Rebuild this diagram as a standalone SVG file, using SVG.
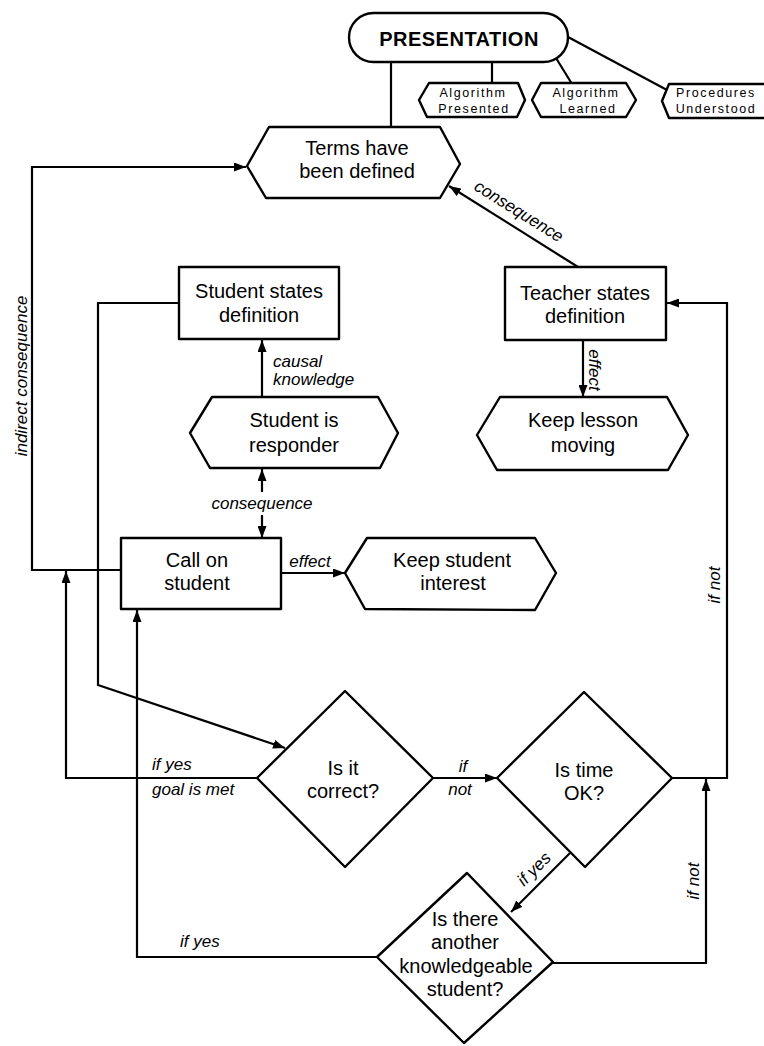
<svg xmlns="http://www.w3.org/2000/svg" width="764" height="1046" viewBox="0 0 764 1046">
<style>
.node{fill:#fff;stroke:#000;stroke-width:2.4;stroke-linejoin:round}
.edge{fill:none;stroke:#000;stroke-width:2.2}
.t{font-family:"Liberation Sans",Arial,sans-serif;font-size:20px;text-anchor:middle;fill:#000}
.small{font-size:12.5px;letter-spacing:1.6px}
.title{font-weight:bold;font-size:20px;letter-spacing:0.5px}
.lbl{font-family:"Liberation Sans",Arial,sans-serif;font-size:17px;font-style:italic;fill:#000}
.mid{text-anchor:middle}
</style>
<defs>
<marker id="arr" markerUnits="userSpaceOnUse" markerWidth="13" markerHeight="9" refX="12" refY="4.5" orient="auto">
<path d="M0,0 L12,4.5 L0,9 Z" fill="#000"/>
</marker>
</defs>
<rect width="764" height="1046" fill="#fff"/>

<g id="connectors">
<path class="edge" d="M391,61 V127"/>
<path class="edge" d="M492,61 V83"/>
<path class="edge" d="M556,58 L572,84"/>
<path class="edge" d="M568,37 L667,90"/>
<path class="edge" d="M121,570 H32 V167 H246" marker-end="url(#arr)"/>
<path class="edge" d="M257,778 H66 V571" marker-end="url(#arr)"/>
<path class="edge" d="M179,303 H98 V685 L285,748" marker-end="url(#arr)"/>
<path class="edge" d="M262,397 V340" marker-end="url(#arr)"/>
<path class="edge" d="M262,492 V469" marker-end="url(#arr)"/>
<path class="edge" d="M262,515 V538" marker-end="url(#arr)"/>
<path class="edge" d="M281,573 H345" marker-end="url(#arr)"/>
<path class="edge" d="M578,267 L449,186" marker-end="url(#arr)"/>
<path class="edge" d="M583,340 V397" marker-end="url(#arr)"/>
<path class="edge" d="M433,778 H497" marker-end="url(#arr)"/>
<path class="edge" d="M672,778 H727 V303 H667" marker-end="url(#arr)"/>
<path class="edge" d="M570,853 L511,912" marker-end="url(#arr)"/>
<path class="edge" d="M377,957 H137 V610" marker-end="url(#arr)"/>
<path class="edge" d="M553,963 H706 V779" marker-end="url(#arr)"/>

<text class="lbl mid" transform="translate(27,376) rotate(-90)">indirect consequence</text>
<text class="lbl mid" transform="translate(516,216) rotate(32)">consequence</text>
<text class="lbl" x="273" y="367">causal</text>
<text class="lbl" x="273" y="385">knowledge</text>
<text class="lbl mid" transform="translate(589,370) rotate(90)">effect</text>
<text class="lbl mid" x="262" y="509">consequence</text>
<text class="lbl mid" x="310" y="567">effect</text>
<text class="lbl mid" transform="translate(720,585) rotate(-90)">if not</text>
<text class="lbl" x="152" y="770">if yes</text>
<text class="lbl" x="152" y="795">goal is met</text>
<text class="lbl mid" x="463" y="772">if</text>
<text class="lbl mid" x="460" y="795">not</text>
<text class="lbl mid" transform="translate(538,873) rotate(-45)">if yes</text>
<text class="lbl mid" transform="translate(699,881) rotate(-90)">if not</text>
<text class="lbl" x="180" y="947">if yes</text>
</g>

<g id="n-presentation">
<rect class="node" x="349" y="13" width="219" height="49" rx="24.5"/>
<text class="t title" x="459" y="46">PRESENTATION</text>
</g>
<g id="n-alg-presented">
<polygon class="node" points="419,100 429,83 518,83 525,100 517,117 427,117"/>
<text class="t small" x="473" y="97">Algorithm</text>
<text class="t small" x="474" y="113">Presented</text>
</g>
<g id="n-alg-learned">
<polygon class="node" points="532,100 541,83 626,83 636,100 626,117 541,117"/>
<text class="t small" x="586" y="97">Algorithm</text>
<text class="t small" x="588" y="113">Learned</text>
</g>
<g id="n-procedures">
<polygon class="node" points="662,101 669,84 770,84 778,101 770,118 669,118"/>
<text class="t small" x="716" y="97">Procedures</text>
<text class="t small" x="716" y="113">Understood</text>
</g>
<g id="n-terms">
<polygon class="node" points="247,166 269,127 440,127 460,164 440,198 266,198"/>
<text class="t" x="357" y="155">Terms have</text>
<text class="t" x="357" y="178">been defined</text>
</g>
<g id="n-student-states">
<rect class="node" x="179" y="267" width="160" height="72"/>
<text class="t" x="259" y="298">Student states</text>
<text class="t" x="259" y="322">definition</text>
</g>
<g id="n-teacher-states">
<rect class="node" x="505" y="267" width="161" height="73"/>
<text class="t" x="585" y="300">Teacher states</text>
<text class="t" x="585" y="323">definition</text>
</g>
<g id="n-responder">
<polygon class="node" points="190,433 212,397 378,397 398,433 380,468 210,468"/>
<text class="t" x="294" y="427">Student is</text>
<text class="t" x="294" y="452">responder</text>
</g>
<g id="n-keep-lesson">
<polygon class="node" points="477,435 500,397 667,397 688,435 668,470 497,470"/>
<text class="t" x="583" y="427">Keep lesson</text>
<text class="t" x="583" y="452">moving</text>
</g>
<g id="n-call">
<rect class="node" x="121" y="538" width="160" height="71"/>
<text class="t" x="197" y="567">Call on</text>
<text class="t" x="197" y="590">student</text>
</g>
<g id="n-keep-interest">
<polygon class="node" points="345,573 367,538 535,538 556,573 535,610 365,609"/>
<text class="t" x="452" y="567">Keep student</text>
<text class="t" x="453" y="590">interest</text>
</g>
<g id="n-correct">
<polygon class="node" points="345,691 433,778 345,867 257,778"/>
<text class="t" x="343" y="775">Is it</text>
<text class="t" x="343" y="798">correct?</text>
</g>
<g id="n-time">
<polygon class="node" points="584,692 672,778 585,867 497,778"/>
<text class="t" x="584" y="777">Is time</text>
<text class="t" x="584" y="800">OK?</text>
</g>
<g id="n-another">
<polygon class="node" points="467,873 553,962 464,1043 377,957"/>
<text class="t" x="465" y="926">Is there</text>
<text class="t" x="465" y="949">another</text>
<text class="t" x="466" y="973">knowledgeable</text>
<text class="t" x="465" y="996">student?</text>
</g>
</svg>
